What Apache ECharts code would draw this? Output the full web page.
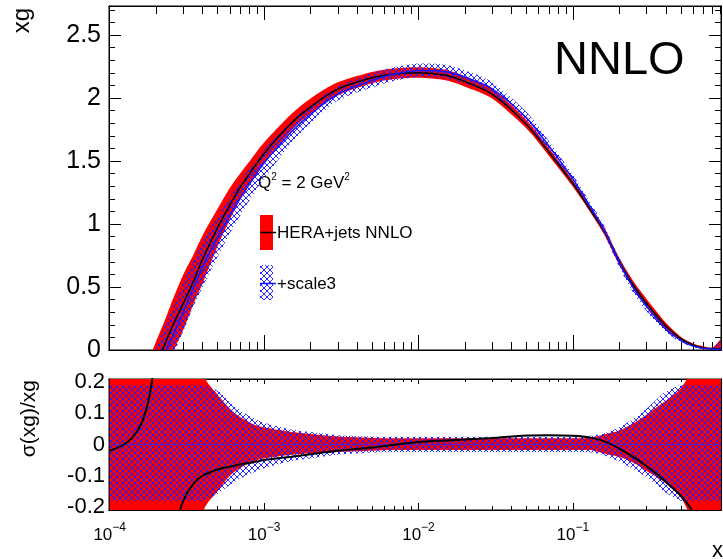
<!DOCTYPE html>
<html><head><meta charset="utf-8">
<script src="https://cdn.jsdelivr.net/npm/echarts@6/dist/echarts.min.js"></script>
<style>html,body{margin:0;padding:0;background:#fff}#c{width:723px;height:559px}</style>
</head><body><div id="c"></div>
<script>
// ---------------- data ----------------
const xs = [1e-4, 1.2e-4, 1.4e-4, 1.6e-4, 1.8e-4, 2e-4, 2.3e-4, 2.6e-4, 3e-4, 3.5e-4,
  4e-4, 5e-4, 6e-4, 7e-4, 8.5e-4, 1e-3, 1.5e-3, 2e-3, 3e-3, 5e-3,
  7e-3, 1e-2, 1.5e-2, 2e-2, 3e-2, 5e-2, 7e-2, 0.1, 0.13, 0.16,
  0.2, 0.25, 0.3, 0.35, 0.4, 0.5, 0.6, 0.7, 0.8, 0.91];

// top panel: HERA+jets NNLO (red band, black central line)
const hjCentral = [-0.9, -0.7, -0.5, -0.33, -0.2, -0.12, 0.06, 0.21, 0.37, 0.55,
  0.72, 0.97, 1.15, 1.29, 1.44, 1.56, 1.80, 1.93, 2.07, 2.16,
  2.19, 2.20, 2.18, 2.13, 2.03, 1.79, 1.57, 1.32, 1.11, 0.94,
  0.70, 0.50, 0.37, 0.27, 0.19, 0.09, 0.04, 0.018, 0.01, 0.005];
const hjHigh = [-0.5, -0.35, -0.22, -0.12, -0.06, 0.07, 0.25, 0.42, 0.60, 0.76,
  0.91, 1.12, 1.285, 1.40, 1.535, 1.646, 1.872, 1.996, 2.124, 2.207,
  2.234, 2.244, 2.224, 2.173, 2.071, 1.826, 1.601, 1.346, 1.134, 0.971,
  0.73, 0.535, 0.405, 0.302, 0.217, 0.106, 0.052, 0.03, 0.02, 0.09];
const hjLow = [-1.3, -1.05, -0.8, -0.6, -0.45, -0.33, -0.14, 0.0, 0.16, 0.37,
  0.53, 0.824, 1.035, 1.193, 1.36, 1.49, 1.74, 1.876, 2.02, 2.117,
  2.15, 2.16, 2.14, 2.09, 1.995, 1.757, 1.54, 1.295, 1.09, 0.912,
  0.672, 0.47, 0.339, 0.242, 0.166, 0.075, 0.03, 0.005, 0.0, 0.0];

// top panel: +scale3 (blue hatched band, blue central line)
const sc3Central = [-1.0, -0.8, -0.6, -0.43, -0.3, -0.17, -0.01, 0.13, 0.30, 0.50,
  0.66, 0.893, 1.068, 1.205, 1.36, 1.484, 1.73, 1.87, 2.03, 2.14,
  2.19, 2.218, 2.208, 2.164, 2.073, 1.842, 1.617, 1.357, 1.134, 0.949,
  0.691, 0.479, 0.344, 0.244, 0.167, 0.075, 0.031, 0.013, 0.0065, 0.003];
const sc3High = [-0.6, -0.45, -0.32, -0.2, -0.1, 0.02, 0.2, 0.358, 0.54, 0.716,
  0.859, 1.06, 1.212, 1.338, 1.476, 1.588, 1.813, 1.945, 2.091, 2.196,
  2.245, 2.273, 2.263, 2.218, 2.125, 1.888, 1.657, 1.391, 1.166, 0.983,
  0.729, 0.52, 0.384, 0.279, 0.195, 0.089, 0.04, 0.02, 0.015, 0.08];
const sc3Low = [-1.4, -1.15, -0.9, -0.7, -0.5, -0.35, -0.18, -0.03, 0.15, 0.35,
  0.5, 0.74, 0.925, 1.065, 1.235, 1.36, 1.64, 1.80, 1.98, 2.084,
  2.137, 2.165, 2.155, 2.112, 2.023, 1.798, 1.578, 1.324, 1.105, 0.916,
  0.653, 0.441, 0.308, 0.212, 0.141, 0.062, 0.025, 0.008, 0.0, 0.0];

// bottom panel: relative uncertainties sigma(xg)/xg
const hjRelUp = [0.5, 0.5, 0.5, 0.5, 0.5, 0.5, 0.5, 0.5, 0.5, 0.4,
  0.23, 0.16, 0.115, 0.088, 0.065, 0.055, 0.04, 0.034, 0.026, 0.022,
  0.02, 0.02, 0.02, 0.02, 0.02, 0.02, 0.02, 0.02, 0.022, 0.033,
  0.045, 0.07, 0.095, 0.12, 0.14, 0.18, 0.25, 0.35, 0.45, 0.5];
const hjRelLow = [-0.5, -0.5, -0.5, -0.5, -0.5, -0.5, -0.5, -0.5, -0.5, -0.4,
  -0.22, -0.15, -0.1, -0.075, -0.055, -0.045, -0.033, -0.028, -0.024, -0.02,
  -0.018, -0.018, -0.018, -0.018, -0.018, -0.018, -0.018, -0.018, -0.018, -0.03,
  -0.04, -0.06, -0.085, -0.105, -0.125, -0.17, -0.25, -0.35, -0.45, -0.5];
const sc3RelUp = [0.19, 0.19, 0.19, 0.19, 0.19, 0.19, 0.19, 0.19, 0.19, 0.19,
  0.19, 0.172, 0.135, 0.11, 0.085, 0.07, 0.048, 0.04, 0.03, 0.026,
  0.025, 0.025, 0.025, 0.025, 0.025, 0.025, 0.025, 0.025, 0.028, 0.036,
  0.055, 0.085, 0.115, 0.145, 0.17, 0.19, 0.19, 0.19, 0.19, 0.19];
const sc3RelLow = [-0.18, -0.18, -0.18, -0.18, -0.18, -0.18, -0.18, -0.18, -0.18, -0.18,
  -0.18, -0.158, -0.13, -0.11, -0.09, -0.076, -0.053, -0.045, -0.033, -0.026,
  -0.024, -0.024, -0.024, -0.024, -0.024, -0.024, -0.024, -0.024, -0.026, -0.035,
  -0.055, -0.08, -0.105, -0.13, -0.155, -0.18, -0.18, -0.18, -0.18, -0.18];
// bottom panel: black ratio curve
const ratioLine = [-0.02, -0.004, 0.022, 0.066, 0.15, 0.3, null, -0.28, -0.18, -0.125,
  -0.1, -0.08, -0.071, -0.064, -0.057, -0.05, -0.039, -0.031, -0.02, -0.01,
  -0.001, 0.008, 0.013, 0.016, 0.021, 0.029, 0.03, 0.028, 0.022, 0.01,
  -0.013, -0.042, -0.069, -0.095, -0.12, -0.165, -0.215, -0.28, -0.35, -0.42];

// ticks
const xMajorTicks = [1e-4, 1e-3, 1e-2, 1e-1];
const xMinorTicks = [2e-4, 3e-4, 4e-4, 5e-4, 6e-4, 7e-4, 8e-4, 9e-4,
  2e-3, 3e-3, 4e-3, 5e-3, 6e-3, 7e-3, 8e-3, 9e-3,
  2e-2, 3e-2, 4e-2, 5e-2, 6e-2, 7e-2, 8e-2, 9e-2,
  0.2, 0.3, 0.4, 0.5, 0.6, 0.7, 0.8, 0.9];
const yTopMajor = [0, 0.5, 1, 1.5, 2, 2.5];
const yTopMinor = [0.1, 0.2, 0.3, 0.4, 0.6, 0.7, 0.8, 0.9, 1.1, 1.2, 1.3, 1.4,
  1.6, 1.7, 1.8, 1.9, 2.1, 2.2, 2.3, 2.4, 2.6, 2.7];
const yBotMajor = [-0.2, -0.1, 0, 0.1, 0.2];
const yBotMinor = [-0.18, -0.16, -0.14, -0.12, -0.08, -0.06, -0.04, -0.02,
  0.02, 0.04, 0.06, 0.08, 0.12, 0.14, 0.16, 0.18];

// ---------------- chart ----------------
const FONT = '"Liberation Sans", Arial, Helvetica, sans-serif';
function makeHatch() {
  const c = document.createElement('canvas');
  c.width = 6; c.height = 6;
  const g = c.getContext('2d');
  g.strokeStyle = 'rgba(30,30,255,0.95)';
  g.lineWidth = 1;
  g.beginPath();
  g.moveTo(0, 0); g.lineTo(6, 6);
  g.moveTo(6, 0); g.lineTo(0, 6);
  g.stroke();
  return c;
}
const hatch = { image: makeHatch(), repeat: 'repeat' };
const RED = '#ff0000';

// smooth path segment through pixel points (Catmull-Rom -> cubic Bezier)
function smoothSeg(p, first) {
  let d = first ? 'M' + p[0][0] + ' ' + p[0][1] : 'L' + p[0][0] + ' ' + p[0][1];
  const k = 1 / 7;
  for (let i = 0; i < p.length - 1; i++) {
    const p0 = p[Math.max(0, i - 1)], p1 = p[i], p2 = p[i + 1], p3 = p[Math.min(p.length - 1, i + 2)];
    const c1x = p1[0] + (p2[0] - p0[0]) * k, c1y = p1[1] + (p2[1] - p0[1]) * k;
    const c2x = p2[0] - (p3[0] - p1[0]) * k, c2y = p2[1] - (p3[1] - p1[1]) * k;
    d += 'C' + c1x + ' ' + c1y + ' ' + c2x + ' ' + c2y + ' ' + p2[0] + ' ' + p2[1];
  }
  return d;
}
function band(xi, yi, low, high, fill, z) {
  return {
    type: 'custom', xAxisIndex: xi, yAxisIndex: yi, z: z, silent: true, clip: true,
    data: xs.map((x, i) => [x, low[i], high[i]]),
    encode: { x: 0, y: [1, 2] },
    renderItem: function (params, api) {
      if (params.dataIndex !== 0) return;
      const cs = params.coordSys;
      const up = [], dn = [];
      for (let i = 0; i < xs.length; i++) up.push(api.coord([xs[i], high[i]]));
      for (let i = xs.length - 1; i >= 0; i--) dn.push(api.coord([xs[i], low[i]]));
      const d = smoothSeg(up, true) + smoothSeg(dn, false) + 'Z';
      return {
        type: 'group',
        clipPath: { type: 'rect', shape: { x: cs.x, y: cs.y, width: cs.width, height: cs.height } },
        children: [{ type: 'path', shape: { pathData: d }, style: { fill: fill, stroke: null } }]
      };
    }
  };
}
function line(xi, yi, vals, color, width, z, extra) {
  return Object.assign({
    type: 'line', xAxisIndex: xi, yAxisIndex: yi, z: z, silent: true,
    showSymbol: false, symbol: 'none', smooth: 0.3, connectNulls: false, clip: true,
    data: xs.map((x, i) => [x, vals[i] === null ? null : vals[i]]),
    lineStyle: { color: color, width: width }
  }, extra || {});
}

const XMIN = 0.99e-4, XMAX = 0.91;
function xAxisDef(gi, pos, values, len, labels) {
  return {
    type: 'log', logBase: 10, gridIndex: gi, position: pos, min: XMIN, max: XMAX,
    axisLine: { show: true, onZero: false, lineStyle: { color: '#000', width: 1 } },
    axisTick: { show: true, inside: true, length: len, customValues: values, lineStyle: { color: '#000', width: 1 } },
    minorTick: { show: false },
    splitLine: { show: false },
    axisLabel: labels ? labels : { show: false }
  };
}
function yAxisDef(gi, pos, min, max, values, len, labels) {
  return {
    type: 'value', gridIndex: gi, position: pos, min: min, max: max,
    axisLine: { show: true, onZero: false, lineStyle: { color: '#000', width: 1 } },
    axisTick: { show: true, inside: true, length: len, customValues: values, lineStyle: { color: '#000', width: 1 } },
    minorTick: { show: false },
    splitLine: { show: false },
    axisLabel: labels ? labels : { show: false }
  };
}

const xLabel = {
  show: true, margin: 12, customValues: xMajorTicks, color: '#000',
  formatter: function (v) {
    const e = Math.round(Math.log10(v));
    return '{b|10}{s|\u2212' + (-e) + '}';
  },
  rich: {
    b: { fontFamily: FONT, fontSize: 17, lineHeight: 26, color: '#000' },
    s: { fontFamily: FONT, fontSize: 12, lineHeight: 22, verticalAlign: 'top', color: '#000' }
  }
};

const option = {
  animation: false,
  backgroundColor: '#fff',
  grid: [
    { left: 109, top: 6, width: 612, height: 344, show: true, borderColor: '#000', borderWidth: 1, backgroundColor: 'transparent' },
    { left: 109, top: 379, width: 612, height: 131, show: true, borderColor: '#000', borderWidth: 1, backgroundColor: 'transparent' }
  ],
  xAxis: [
    xAxisDef(0, 'bottom', xMajorTicks, 15),
    xAxisDef(0, 'bottom', xMinorTicks, 8),
    xAxisDef(0, 'top', xMajorTicks, 14),
    xAxisDef(0, 'top', xMinorTicks, 8),
    xAxisDef(1, 'bottom', xMajorTicks, 7, xLabel),
    xAxisDef(1, 'bottom', xMinorTicks, 4),
    xAxisDef(1, 'top', xMajorTicks, 5),
    xAxisDef(1, 'top', xMinorTicks, 3)
  ],
  yAxis: [
    yAxisDef(0, 'left', 0, 2.73, yTopMajor, 12, { show: true, margin: 8, customValues: yTopMajor, fontFamily: FONT, fontSize: 25, color: '#000' }),
    yAxisDef(0, 'left', 0, 2.73, yTopMinor, 6),
    yAxisDef(0, 'right', 0, 2.73, yTopMajor, 12),
    yAxisDef(0, 'right', 0, 2.73, yTopMinor, 6),
    yAxisDef(1, 'left', -0.21, 0.21, yBotMajor, 10, { show: true, margin: 4, customValues: yBotMajor, fontFamily: FONT, fontSize: 22, color: '#000' }),
    yAxisDef(1, 'left', -0.21, 0.21, yBotMinor, 5),
    yAxisDef(1, 'right', -0.21, 0.21, yBotMajor, 10),
    yAxisDef(1, 'right', -0.21, 0.21, yBotMinor, 5)
  ],
  series: [
    band(0, 0, hjLow, hjHigh, RED, 1),
    band(0, 0, sc3Low, sc3High, hatch, 2),
    line(0, 0, hjCentral, '#000', 1.5, 3),
    line(0, 0, sc3Central, '#1515ff', 1.5, 4),
    band(4, 4, hjRelLow, hjRelUp, RED, 1),
    band(4, 4, sc3RelLow, sc3RelUp, hatch, 2),
    line(4, 4, ratioLine, '#000', 2, 5, {
      markLine: { silent: true, symbol: 'none', label: { show: false },
        lineStyle: { color: '#3a2ad0', type: [3, 3], width: 1 }, data: [{ yAxis: 0 }] }
    })
  ],
  graphic: [
    { type: 'text', x: 22, y: 8, rotation: Math.PI / 2,
      style: { text: 'xg', font: '24px ' + FONT, fill: '#000', align: 'right', verticalAlign: 'middle', textAlign: 'right', textVerticalAlign: 'middle' } },
    { type: 'text', x: 29, y: 380, rotation: Math.PI / 2,
      style: { text: '\u03c3(xg)/xg', font: '21px ' + FONT, fill: '#000', align: 'right', verticalAlign: 'middle', textAlign: 'right', textVerticalAlign: 'middle' } },
    { type: 'text', x: 712, y: 551,
      style: { text: 'x', font: '22px ' + FONT, fill: '#000', align: 'left', verticalAlign: 'middle', textAlign: 'left', textVerticalAlign: 'middle' } },
    { type: 'text', x: 554, y: 61,
      style: { text: 'NNLO', font: '47px ' + FONT, fill: '#000', align: 'left', verticalAlign: 'middle', textAlign: 'left', textVerticalAlign: 'middle' } },
    { type: 'text', x: 258, y: 183,
      style: { text: '{n|Q}{s|2}{n| = 2 GeV}{s|2}', fill: '#000', align: 'left', verticalAlign: 'middle', textAlign: 'left', textVerticalAlign: 'middle',
        rich: { n: { fontFamily: FONT, fontSize: 17, lineHeight: 22, fill: '#000' },
                s: { fontFamily: FONT, fontSize: 10, lineHeight: 16, verticalAlign: 'top', fill: '#000' } } } },
    { type: 'rect', shape: { x: 260, y: 215, width: 13, height: 35 }, style: { fill: RED } },
    { type: 'line', shape: { x1: 260, y1: 232.5, x2: 276, y2: 232.5 }, style: { stroke: '#000', lineWidth: 1.5 } },
    { type: 'text', x: 277, y: 233,
      style: { text: 'HERA+jets NNLO', font: '17px ' + FONT, fill: '#000', align: 'left', verticalAlign: 'middle', textAlign: 'left', textVerticalAlign: 'middle' } },
    { type: 'rect', shape: { x: 260, y: 265, width: 13, height: 35 }, style: { fill: hatch } },
    { type: 'line', shape: { x1: 260, y1: 283.5, x2: 276, y2: 283.5 }, style: { stroke: '#1515ff', lineWidth: 1.5 } },
    { type: 'text', x: 277, y: 284,
      style: { text: '+scale3', font: '17px ' + FONT, fill: '#000', align: 'left', verticalAlign: 'middle', textAlign: 'left', textVerticalAlign: 'middle' } }
  ]
};
const chart = echarts.init(document.getElementById('c'), null, { renderer: 'canvas' });
chart.setOption(option);
</script>
</body></html>
